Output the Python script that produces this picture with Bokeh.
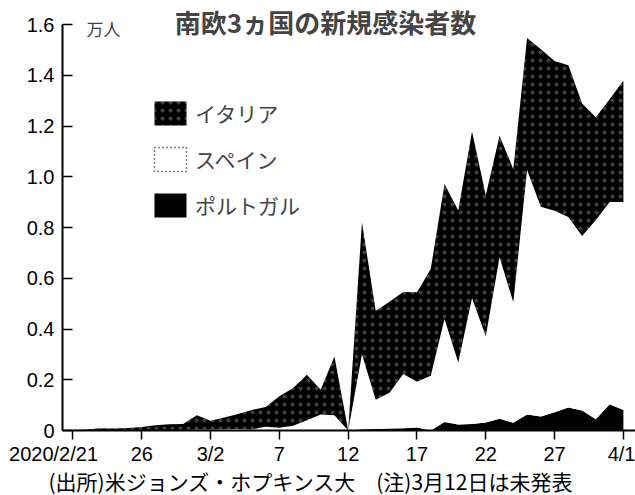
from bokeh.plotting import figure
from bokeh.models import (Range1d, FixedTicker, Label, Legend, LegendItem,
                          ColumnDataSource, Title)
from bokeh.embed import file_html
from bokeh.resources import INLINE

# ---- data (new confirmed cases per day) ----
dates = ["2/21", "2/22", "2/23", "2/24", "2/25", "2/26", "2/27", "2/28", "2/29",
         "3/1", "3/2", "3/3", "3/4", "3/5", "3/6", "3/7", "3/8", "3/9", "3/10",
         "3/11", "3/12", "3/13", "3/14", "3/15", "3/16", "3/17", "3/18", "3/19",
         "3/20", "3/21", "3/22", "3/23", "3/24", "3/25", "3/26", "3/27", "3/28",
         "3/29", "3/30", "3/31", "4/1"]
italy = [17, 42, 93, 74, 93, 131, 202, 233, 240,
         566, 342, 466, 587, 769, 778, 1247, 1492, 1797, 977,
         2313, 0, 5198, 3497, 3590, 3233, 3526, 4207, 5322,
         5986, 6557, 5560, 4789, 5249, 5210, 6203, 5909, 5974,
         5217, 4050, 4053, 4782]
spain = [0, 0, 0, 0, 4, 7, 2, 17, 13,
         39, 36, 45, 57, 37, 141, 100, 173, 400, 622,
         582, 0, 2955, 1159, 1407, 2144, 1806, 2162, 4053,
         2447, 4964, 3394, 6368, 4749, 9630, 8271, 7933, 7516,
         6875, 7846, 7967, 8195]
portugal = [0, 0, 0, 0, 0, 0, 0, 0, 0,
            0, 2, 0, 3, 3, 5, 7, 10, 0, 11,
            18, 0, 53, 57, 76, 86, 117, 0, 337,
            235, 260, 320, 460, 302, 633, 549, 724, 902,
            792, 446, 1035, 808]
series_names = ["イタリア", "スペイン", "ポルトガル"]
x_tick_pos = [0, 5, 10, 15, 20, 25, 30, 35, 40]
x_tick_labels = ["2020/2/21", "26", "3/2", "7", "12", "17", "22", "27", "4/1"]
y_ticks = [0, 0.2, 0.4, 0.6, 0.8, 1.0, 1.2, 1.4, 1.6]
y_tick_labels = ["0", "0.2", "0.4", "0.6", "0.8", "1.0", "1.2", "1.4", "1.6"]
title_text = "南欧3ヵ国の新規感染者数"
unit_text = "万人"
footer_text = "(出所)米ジョンズ・ホプキンス大　(注)3月12日は未発表"
UNIT = 10000.0

n = len(dates)
xs = list(range(n))
pt_top = [p_ / UNIT for p_ in portugal]
sp_top = [(p_ + s) / UNIT for p_, s in zip(portugal, spain)]
it_top = [(p_ + s + i) / UNIT for p_, s, i in zip(portugal, spain, italy)]

src = ColumnDataSource(dict(x=xs, zero=[0.0] * n, pt=pt_top, sp=sp_top, it=it_top))

JP = "Noto Sans CJK JP"
NUM = "Liberation Sans"

p = figure(width=635, height=495, output_backend="svg", toolbar_location=None,
           x_range=Range1d(-0.763, 40.88), y_range=Range1d(0, 1.675),
           min_border_left=62, min_border_right=0, min_border_top=5,
           min_border_bottom=65)
p.outline_line_color = None
p.grid.visible = False
p.background_fill_color = "white"
p.border_fill_color = "white"

r_pt = p.varea(x="x", y1="zero", y2="pt", source=src, fill_color="black")
r_sp = p.varea(x="x", y1="pt", y2="sp", source=src, fill_color="white")
r_it = p.varea(x="x", y1="sp", y2="it", source=src, fill_color="black",
               hatch_pattern="dot", hatch_color="white", hatch_scale=8,
               hatch_weight=1, hatch_alpha=0.25)
# zero-size glyph on the baseline, only used for the Spain legend swatch
r_sp_leg = p.rect(x="x", y="zero", width=0, height=0, source=src,
                  fill_color="white", line_color="black", line_dash="1 3",
                  line_width=1.5)

legend = Legend(items=[LegendItem(label=series_names[0], renderers=[r_it]),
                       LegendItem(label=series_names[1], renderers=[r_sp_leg]),
                       LegendItem(label=series_names[2], renderers=[r_pt])],
                location=(88, 210), orientation="vertical",
                glyph_width=40, glyph_height=30, label_height=30, spacing=16,
                padding=0, margin=0, border_line_color=None,
                background_fill_alpha=0, label_text_font=JP,
                label_text_font_size="21px", label_standoff=5)
p.add_layout(legend)

# axes
xa = p.xaxis[0]
xa.ticker = FixedTicker(ticks=x_tick_pos)
overrides = {t: l for t, l in zip(x_tick_pos, x_tick_labels)}
overrides[x_tick_pos[0]] = x_tick_labels[0] + "\u00a0" * 7
xa.major_label_overrides = overrides
xa.minor_tick_line_color = None
xa.major_tick_in = 0
xa.major_tick_out = 9
xa.major_tick_line_width = 1.5
xa.axis_line_width = 2
xa.major_label_standoff = 3
xa.major_label_text_font = NUM
xa.major_label_text_font_size = "20px"
xa.major_label_text_color = "black"

ya = p.yaxis[0]
ya.ticker = FixedTicker(ticks=y_ticks)
ya.major_label_overrides = {t: l for t, l in zip(y_ticks, y_tick_labels)}
ya.minor_tick_line_color = None
ya.major_tick_in = 10
ya.major_tick_out = 0
ya.major_tick_line_width = 1.5
ya.axis_line_width = 2
ya.bounds = (0, 1.6)
ya.major_label_standoff = 8
ya.major_label_text_font = NUM
ya.major_label_text_font_size = "20px"
ya.major_label_text_color = "black"

# texts
p.add_layout(Label(x=18.35, y=1.612, text=title_text, text_font=JP,
                   text_font_size="26px", text_font_style="bold",
                   text_align="center", text_baseline="middle"))
p.add_layout(Label(x=2.22, y=1.584, text=unit_text, text_font=JP,
                   text_font_size="17px", text_align="center",
                   text_baseline="middle"))
p.add_layout(Title(text=footer_text, align="left", offset=-14, standoff=-8,
                   text_font=JP, text_font_size="21px",
                   text_font_style="normal", text_color="black"), "below")

open("out.html", "w").write(file_html(p, INLINE))
